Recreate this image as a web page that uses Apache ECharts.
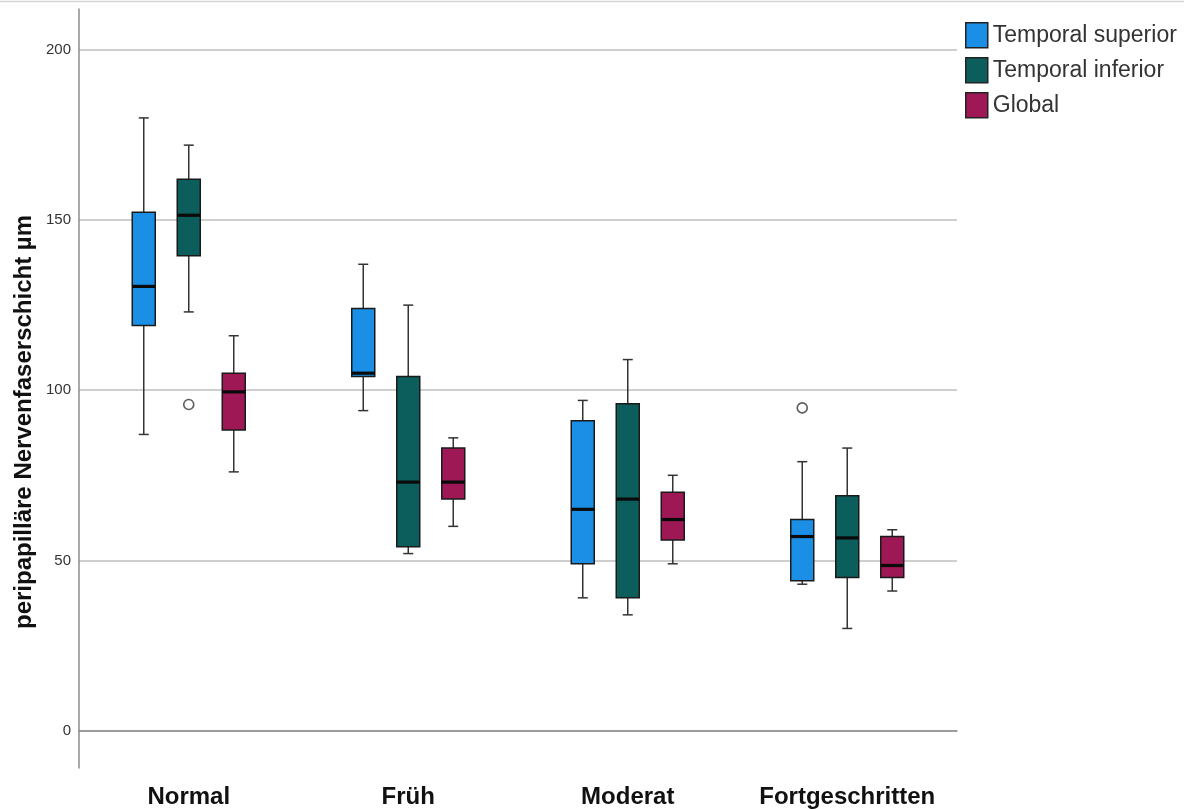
<!DOCTYPE html>
<html>
<head>
<meta charset="utf-8">
<script src="https://cdn.jsdelivr.net/npm/echarts@6/dist/echarts.min.js"></script>
<style>
html,body{margin:0;padding:0;background:#fff;}
#chart{width:1184px;height:809px;}
</style>
</head>
<body>
<div id="chart"></div>
<script>
// ---- Data ----
const categories = ['Normal', 'Früh', 'Moderat', 'Fortgeschritten'];
const seriesNames = ['Temporal superior', 'Temporal inferior', 'Global'];
const yAxisTitle = 'peripapilläre Nervenfaserschicht µm';
// each: [min, q1, median, q3, max] per category
const temporalSuperior = [
  [87, 119, 130.5, 152.3, 180],
  [94, 104, 105, 124, 137],
  [39, 49, 65, 91, 97],
  [43, 44, 57, 62, 79]
];
const temporalInferior = [
  [123, 139.5, 151.4, 162, 172],
  [52, 54, 73, 104, 125],
  [34, 39, 68, 96, 109],
  [30, 45, 56.6, 69, 83]
];
const globalValues = [
  [76, 88.3, 99.5, 105, 116],
  [60, 68, 73, 83, 86],
  [49, 56, 62, 70, 75],
  [41, 45, 48.5, 57, 59]
];
// outliers: [categoryIndex, value]
const outliersSuperior = [[3, 94.8]];
const outliersInferior = [[0, 95.8]];
const outliersGlobal = [];
const yTicks = [0, 50, 100, 150, 200];

const colors = ['#1b8fe6', '#0b5e5b', '#9e1856'];
const offsets = [-45, 0, 45];
const BOX_W = 23, CAP_W = 10;

function toData(arr) {
  return arr.map((v, i) => [i].concat(v));
}

function makeRender(offset) {
  return function (params, api) {
    const c = api.value(0);
    const cx = api.coord([c, 0])[0] + offset;
    const yMin = api.coord([c, api.value(1)])[1];
    const yQ1 = api.coord([c, api.value(2)])[1];
    const yMed = api.coord([c, api.value(3)])[1];
    const yQ3 = api.coord([c, api.value(4)])[1];
    const yMax = api.coord([c, api.value(5)])[1];
    const lineStyle = { stroke: '#333', lineWidth: 1.5, fill: null };
    return {
      type: 'group',
      children: [
        { type: 'line', shape: { x1: cx, y1: yMax, x2: cx, y2: yQ3 }, style: lineStyle },
        { type: 'line', shape: { x1: cx, y1: yQ1, x2: cx, y2: yMin }, style: lineStyle },
        { type: 'line', shape: { x1: cx - CAP_W / 2, y1: yMax, x2: cx + CAP_W / 2, y2: yMax }, style: lineStyle },
        { type: 'line', shape: { x1: cx - CAP_W / 2, y1: yMin, x2: cx + CAP_W / 2, y2: yMin }, style: lineStyle },
        { type: 'rect', shape: { x: cx - BOX_W / 2, y: yQ3, width: BOX_W, height: yQ1 - yQ3 },
          style: { fill: api.visual('color'), stroke: '#1a1a1a', lineWidth: 1.5 } },
        { type: 'line', shape: { x1: cx - BOX_W / 2, y1: yMed, x2: cx + BOX_W / 2, y2: yMed },
          style: { stroke: '#0a0a0a', lineWidth: 3.2 } }
      ]
    };
  };
}

const boxSets = [temporalSuperior, temporalInferior, globalValues];
const outSets = [outliersSuperior, outliersInferior, outliersGlobal];

const series = [];
boxSets.forEach((set, i) => {
  series.push({
    name: seriesNames[i],
    type: 'custom',
    renderItem: makeRender(offsets[i]),
    itemStyle: { color: colors[i] },
    encode: { x: 0, y: [1, 2, 3, 4, 5] },
    data: toData(set),
    z: 3
  });
});
outSets.forEach((set, i) => {
  if (!set.length) return;
  series.push({
    name: 'Ausreißer ' + (i + 1),
    type: 'scatter',
    symbol: 'circle',
    symbolSize: 10,
    symbolOffset: [offsets[i], 0],
    itemStyle: { color: '#fff', borderColor: '#333', borderWidth: 1.6 },
    data: set,
    z: 4
  });
});

const chart = echarts.init(document.getElementById('chart'), null, { renderer: 'canvas' });
chart.setOption({
  animation: false,
  backgroundColor: '#fff',
  textStyle: { fontFamily: 'Liberation Sans, Arial, sans-serif' },
  graphic: [{
    type: 'line', shape: { x1: 0, y1: 1.5, x2: 1184, y2: 1.5 },
    style: { stroke: '#d4d4d4', lineWidth: 1.5 }
  }, {
    type: 'text',
    x: 24, y: 422,
    rotation: Math.PI / 2,
    style: {
      text: yAxisTitle,
      font: 'bold 24px "Liberation Sans"',
      fill: '#111',
      align: 'center',
      verticalAlign: 'middle'
    }
  }],
  grid: { left: 79, right: 227, top: 9, bottom: 40 },
  legend: {
    data: seriesNames,
    orient: 'vertical',
    left: 960,
    top: 17,
    itemWidth: 22,
    itemHeight: 25,
    itemGap: 8.5,
    icon: 'rect',
    itemStyle: { borderColor: '#222', borderWidth: 1.5 },
    textStyle: { fontSize: 23, color: '#333', fontFamily: 'Liberation Sans' }
  },
  xAxis: {
    type: 'category',
    data: categories,
    boundaryGap: true,
    axisLine: { lineStyle: { color: '#8c8c8c', width: 1.5 } },
    axisTick: { show: false },
    axisLabel: { interval: 0, fontSize: 24, fontWeight: 'bold', color: '#111', margin: 17, fontFamily: 'Liberation Sans' },
    splitLine: { show: false }
  },
  yAxis: {
    type: 'value',
    min: -11,
    max: 212,
    axisLine: { show: true, lineStyle: { color: '#8c8c8c', width: 1.5 } },
    axisTick: { show: false, customValues: yTicks },
    axisLabel: { customValues: yTicks, fontSize: 15, color: '#333', margin: 8, fontFamily: 'Liberation Sans' },
    splitLine: { show: true, lineStyle: { color: '#cfcfcf', width: 2 } }
  },
  series: series
});
</script>
</body>
</html>
